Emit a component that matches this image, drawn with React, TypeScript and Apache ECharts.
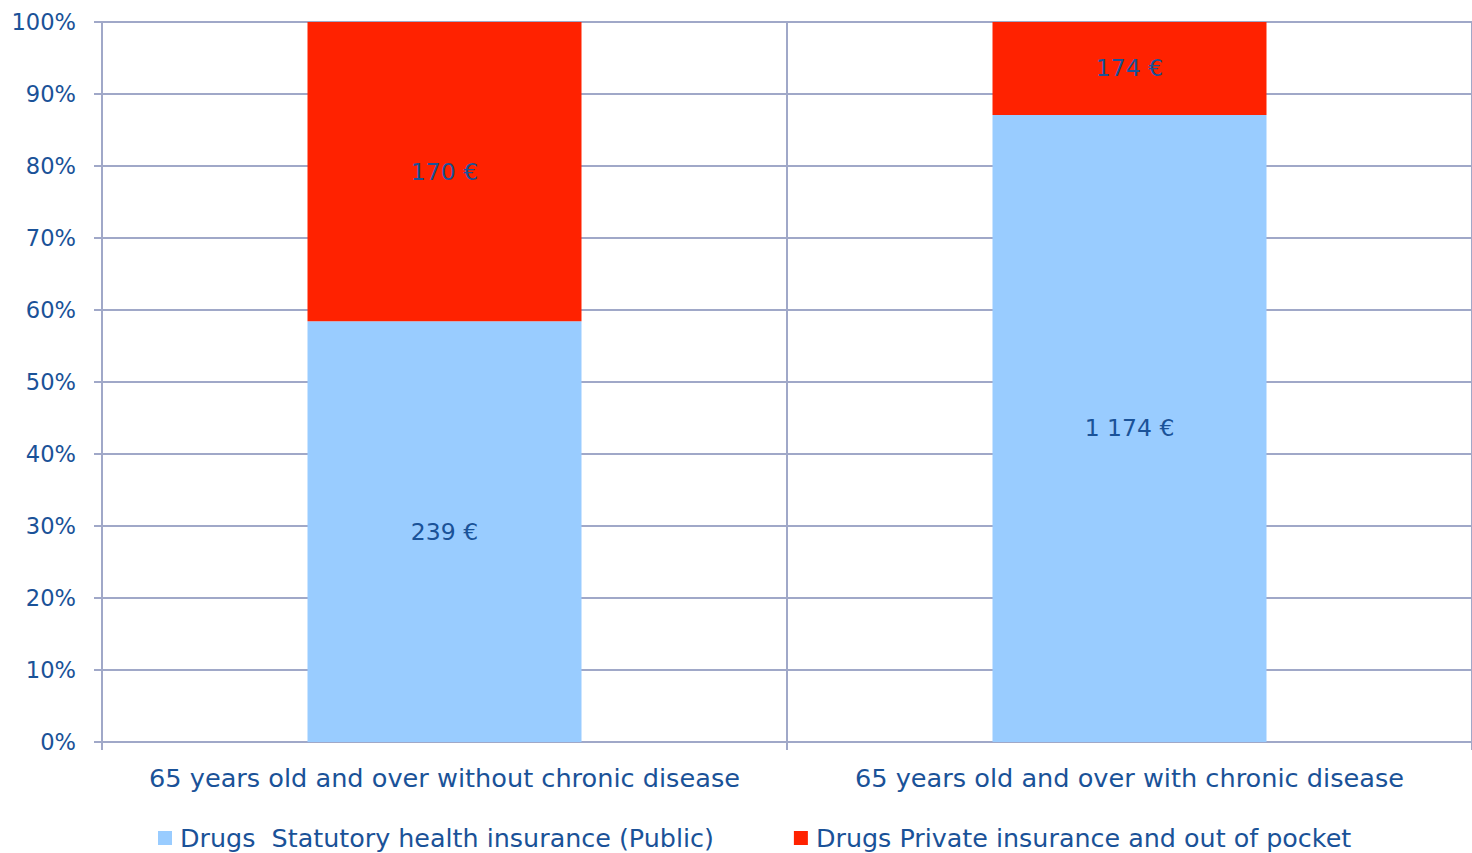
import React, { useEffect, useRef } from "react";
import * as echarts from "echarts";

const categories = [
  "65 years old and over without chronic disease",
  "65 years old and over with chronic disease",
];
const publicName = "Drugs  Statutory health insurance (Public)";
const privateName = "Drugs Private insurance and out of pocket";
const publicEuros = [239, 1174];
const privateEuros = [170, 174];
const yTicks = [0, 10, 20, 30, 40, 50, 60, 70, 80, 90, 100];

const TEXT = "#1A5298";
const AXIS = "#A0A8C8";
const FONT = "'DejaVu Sans', 'Noto Sans', sans-serif";

const fmtEuro = (v: number) =>
  String(v).replace(/\B(?=(\d{3})+(?!\d))/g, " ") + " €";

export default function App() {
  const ref = useRef<HTMLDivElement>(null);
  useEffect(() => {
    if (!ref.current) return;
    const chart = echarts.init(ref.current, undefined, { renderer: "svg" });
    const totals = publicEuros.map((v, i) => v + privateEuros[i]);
    const pub = publicEuros.map((v, i) => ({ value: (v / totals[i]) * 100, euro: v }));
    const pri = privateEuros.map((v, i) => ({ value: (v / totals[i]) * 100, euro: v }));
    const label = {
      show: true,
      position: "inside",
      color: TEXT,
      fontFamily: FONT,
      fontSize: 23.5,
      formatter: (p: any) => fmtEuro(p.data.euro),
    };
    chart.setOption({
      animation: false,
      textStyle: { fontFamily: FONT },
      grid: { left: 102, right: -3, top: 22, bottom: 111, containLabel: false },
      legend: {
        left: 158,
        top: 824,
        padding: 0,
        itemWidth: 14,
        itemHeight: 14,
        itemGap: 80,
        icon: "rect",
        textStyle: { color: TEXT, fontSize: 25.4, fontFamily: FONT, lineHeight: 28, padding: [0, 0, 0, 3] },
        data: [publicName, privateName],
      },
      xAxis: {
        type: "category",
        data: categories,
        axisLine: { lineStyle: { color: AXIS, width: 2 } },
        axisTick: { show: true, length: 8, lineStyle: { color: AXIS, width: 2 } },
        splitLine: { show: true, lineStyle: { color: AXIS, width: 2 } },
        axisLabel: { color: TEXT, fontSize: 25.6, fontFamily: FONT, margin: 23, interval: 0 },
      },
      yAxis: {
        type: "value",
        min: 0,
        max: 100,
        interval: 10,
        axisLine: { show: true, lineStyle: { color: AXIS, width: 2 } },
        axisTick: { show: true, length: 8, lineStyle: { color: AXIS, width: 2 } },
        splitLine: { show: true, lineStyle: { color: AXIS, width: 2 } },
        axisLabel: {
          color: TEXT,
          fontSize: 22.6,
          fontFamily: FONT,
          margin: 26,
          formatter: (v: number) => (yTicks.includes(v) ? v + "%" : ""),
        },
      },
      series: [
        {
          name: publicName,
          type: "bar",
          stack: "s",
          barWidth: "40%",
          itemStyle: { color: "#99CCFF" },
          label,
          data: pub,
        },
        {
          name: privateName,
          type: "bar",
          stack: "s",
          barWidth: "40%",
          itemStyle: { color: "#FF2200" },
          label,
          data: pri,
        },
      ],
    });
    return () => chart.dispose();
  }, []);
  return (
    <div
      ref={ref}
      style={{ position: "fixed", left: 0, top: 0, width: 1472, height: 853, background: "#fff" }}
    />
  );
}
